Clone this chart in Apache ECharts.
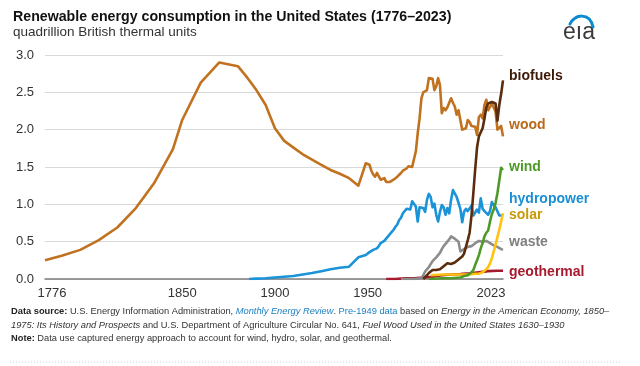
<!DOCTYPE html>
<html>
<head>
<meta charset="utf-8">
<script src="https://cdn.jsdelivr.net/npm/echarts@6/dist/echarts.min.js"></script>
<style>html,body{margin:0;padding:0;background:#fff;}#c{width:640px;height:366px;}</style>
</head>
<body>
<div id="c"></div>
<script>
// ---------- data ----------
const xTickLabels = [1776, 1850, 1900, 1950, 2023];
const yTickLabels = [0, 0.5, 1, 1.5, 2, 2.5, 3];

const annualYears = [];
for (let y = 1949; y <= 2023; y++) annualYears.push(y);

const woodYears = [1776,1785,1795,1805,1815,1825,1835,1845,1850,1860,1870,1880,1885,1890,1895,1900,1905,1910,1915,1920,1925,1930,1935,1940,1945].concat(annualYears);
const woodValues = [0.25,0.31,0.39,0.52,0.69,0.95,1.29,1.74,2.13,2.63,2.90,2.85,2.70,2.53,2.33,2.02,1.85,1.76,1.67,1.60,1.53,1.46,1.41,1.35,1.25,
  1.55,1.56,1.53,1.45,1.40,1.37,1.42,1.40,1.33,1.34,1.35,1.30,1.28,1.30,1.32,1.33,1.34,1.37,1.36,1.42,1.45,1.47,1.48,1.51,1.53,1.50,1.52,
  1.71,1.95,2.15,2.42,2.50,2.52,2.53,2.69,2.69,2.68,2.53,2.58,2.69,2.60,2.22,2.29,2.26,2.30,2.36,2.42,2.36,2.31,2.20,2.26,2.27,
  2.00,2.00,2.02,2.13,2.10,2.05,2.06,2.04,1.93,2.17,2.20,2.15,2.33,2.40,2.26,2.28,2.35,2.37,2.24,2.00,2.02,2.05,1.91];

const hydroYears = [1886,1890,1895,1900,1905,1910,1915,1920,1925,1930,1935,1940,1945].concat(annualYears);
const hydroValues = [0.00,0.005,0.01,0.02,0.03,0.04,0.06,0.08,0.105,0.13,0.15,0.165,0.29,
  0.32,0.34,0.36,0.38,0.39,0.40,0.41,0.44,0.48,0.50,0.51,0.53,0.57,0.60,0.61,0.66,0.70,0.73,0.79,0.82,0.88,0.90,0.94,0.96,0.93,1.04,
  1.02,0.97,0.77,0.96,0.96,0.95,0.90,1.06,1.14,1.10,0.96,1.01,0.86,0.77,0.90,0.99,0.96,0.86,0.95,0.88,1.06,1.19,1.21,1.10,1.09,
  0.94,0.76,0.90,0.94,0.91,0.92,0.98,0.85,0.87,0.93,0.89,1.08,0.94,0.91,0.89,0.86,0.91,1.03,0.99,0.96,0.96,0.85,0.86,0.85];

const biofuelYears = [1980,1981,1982,1983,1984,1985,1986,1987,1988,1989,1990,1991,1992,1993,1994,1995,1996,1997,1998,1999,2000,2001,2002,2003,2004,2005,2006,2007,2008,2009,2010,2011,2012,2013,2014,2015,2016,2017,2018,2019,2020,2021,2022,2023];
const biofuelValues = [0.00,0.02,0.05,0.08,0.10,0.12,0.12,0.12,0.11,0.13,0.15,0.17,0.19,0.21,0.21,0.20,0.19,0.22,0.24,0.26,0.28,0.30,0.34,0.43,0.52,0.62,0.85,1.15,1.47,1.76,1.91,1.93,2.02,2.15,2.30,2.35,2.36,2.37,2.36,2.35,2.12,2.33,2.48,2.66];

const windYears = [1983,1990,1995,2000,2001,2002,2003,2004,2005,2006,2007,2008,2009,2010,2011,2012,2013,2014,2015,2016,2017,2018,2019,2020,2021,2022,2023];
const windValues = [0.00,0.01,0.01,0.02,0.02,0.04,0.04,0.05,0.06,0.09,0.12,0.19,0.25,0.32,0.41,0.48,0.57,0.62,0.65,0.77,0.87,0.93,1.02,1.15,1.32,1.49,1.46];

const solarYears = [1984,1985,1990,1995,2000,2005,2008,2010,2011,2012,2013,2014,2015,2016,2017,2018,2019,2020,2021,2022,2023];
const solarValues = [0.05,0.05,0.06,0.06,0.06,0.06,0.07,0.07,0.08,0.09,0.11,0.13,0.16,0.21,0.28,0.37,0.46,0.56,0.66,0.77,0.88];

const wasteYears = [1968,1975,1979,1980,1981,1982,1983,1984,1985,1986,1987,1988,1989,1990,1991,1992,1993,1994,1995,1996,1997,1998,1999,2000,2001,2002,2003,2004,2005,2006,2007,2008,2009,2010,2011,2012,2013,2014,2015,2016,2017,2018,2019,2020,2021,2022,2023];
const wasteValues = [0.00,0.00,0.01,0.05,0.10,0.13,0.16,0.20,0.24,0.26,0.29,0.32,0.35,0.40,0.44,0.47,0.50,0.53,0.57,0.57,0.54,0.52,0.50,0.37,0.38,0.40,0.41,0.43,0.43,0.44,0.46,0.48,0.49,0.51,0.50,0.50,0.52,0.51,0.50,0.48,0.47,0.45,0.44,0.43,0.42,0.40,0.39];

const geoYears = [1960,1965,1970,1975,1980,1985,1990,1995,2000,2005,2010,2015,2020,2023];
const geoValues = [0.00,0.00,0.01,0.01,0.02,0.03,0.05,0.06,0.065,0.075,0.09,0.105,0.11,0.11];

// ---------- chart ----------
const FONT = '"Liberation Sans", Arial, sans-serif';
const zip = (xs, ys) => xs.map((x, i) => [x, ys[i]]);

function mkSeries(name, years, values, color, labelColor, dy, z) {
  return {
    name: name, type: 'line', data: zip(years, values), z: z,
    showSymbol: false, symbol: 'none', smooth: false, animation: false,
    lineStyle: { color: color, width: 2.6, join: 'round' },
    endLabel: {
      show: true, formatter: '{a}', distance: 6, offset: [0, dy],
      color: labelColor, fontFamily: FONT, fontWeight: 'bold', fontSize: 14
    },
    emphasis: { disabled: true }
  };
}

const chart = echarts.init(document.getElementById('c'), null, { renderer: 'canvas' });
chart.setOption({
  animation: false,
  backgroundColor: '#ffffff',
  title: {
    left: 8, top: 5, itemGap: 1,
    text: 'Renewable energy consumption in the United States (1776\u20132023)',
    subtext: 'quadrillion British thermal units',
    textStyle: { fontFamily: FONT, fontSize: 14.2, fontWeight: 'bold', color: '#111' },
    subtextStyle: { fontFamily: FONT, fontSize: 13.5, color: '#333' }
  },
  grid: { left: 45, right: 137, top: 55, bottom: 87, containLabel: false },
  xAxis: {
    type: 'value', min: 1776, max: 2023,
    axisLine: { show: true, lineStyle: { color: '#7f7f7f', width: 1.5 } },
    axisTick: { show: false },
    splitLine: { show: false },
    axisLabel: {
      customValues: xTickLabels, margin: 8,
      fontFamily: FONT, fontSize: 13, color: '#333',
      formatter: function (v) {
        if (v === xTickLabels[0]) return '{first|' + v + '}';
        if (v === xTickLabels[xTickLabels.length - 1]) return '{last|' + v + '}';
        return String(v);
      },
      rich: {
        first: { fontFamily: FONT, fontSize: 13, color: '#333', padding: [0, 0, 0, 14] },
        last: { fontFamily: FONT, fontSize: 13, color: '#333', padding: [0, 24, 0, 0] }
      }
    }
  },
  yAxis: {
    type: 'value', min: 0, max: 3, interval: 0.5,
    axisLine: { show: false }, axisTick: { show: false },
    splitLine: { lineStyle: { color: '#d9d9d9', width: 1 } },
    axisLabel: {
      margin: 11, fontFamily: FONT, fontSize: 13, color: '#333',
      customValues: yTickLabels,
      formatter: function (v) { return v.toFixed(1); }
    }
  },
  series: [
    mkSeries('geothermal', geoYears, geoValues, '#a6192e', '#a6192e', 1, 2),
    mkSeries('waste', wasteYears, wasteValues, '#8c8c8c', '#7f7f7f', -8, 3),
    mkSeries('hydropower', hydroYears, hydroValues, '#1a93d9', '#1a8fd6', -16, 4),
    mkSeries('wood', woodYears, woodValues, '#c1721f', '#b9691c', -11, 5),
    mkSeries('solar', solarYears, solarValues, '#ffc20e', '#c69a08', 2, 6),
    mkSeries('wind', windYears, windValues, '#4e9a26', '#4e9a26', -3, 7),
    mkSeries('biofuels', biofuelYears, biofuelValues, '#5b2c0e', '#3d1a08', -4, 8)
  ],
  graphic: [
    { type: 'text', left: 563, top: 21, style: { text: 'e\u0131a', fontFamily: FONT, fontSize: 23, fill: '#3a3a3a' } },
    { type: 'bezierCurve', shape: { x1: 570, y1: 24, x2: 593, y2: 27, cpx1: 574, cpy1: 14, cpx2: 590, cpy2: 12 },
      style: { stroke: '#0a8ad0', lineWidth: 3, fill: null, lineCap: 'round' } },
    { type: 'text', left: 11, top: 305, style: {
        text: '{b|Data source:} U.S. Energy Information Administration, {li|Monthly Energy Review}. {l|Pre-1949 data} based on {i|Energy in the American Economy, 1850\u2013}\n' +
              '{i|1975: Its History and Prospects} and U.S. Department of Agriculture Circular No. 641, {i|Fuel Wood Used in the United States 1630\u20131930}\n' +
              '{b|Note:} Data use captured energy approach to account for wind, hydro, solar, and geothermal.',
        fontFamily: FONT, fontSize: 9.3, fill: '#333', lineHeight: 13.5,
        rich: {
          b: { fontFamily: FONT, fontSize: 9.3, fontWeight: 'bold', fill: '#222', lineHeight: 13.5 },
          i: { fontFamily: FONT, fontSize: 9.3, fontStyle: 'italic', fill: '#333', lineHeight: 13.5 },
          li: { fontFamily: FONT, fontSize: 9.3, fontStyle: 'italic', fill: '#1a7fc1', lineHeight: 13.5 },
          l: { fontFamily: FONT, fontSize: 9.3, fill: '#1a7fc1', lineHeight: 13.5 }
        }
      } },
    { type: 'line', shape: { x1: 10, y1: 362, x2: 622, y2: 362 },
      style: { stroke: '#d0d0d0', lineWidth: 1, lineDash: [1, 2] } }
  ]
});
</script>
</body>
</html>
